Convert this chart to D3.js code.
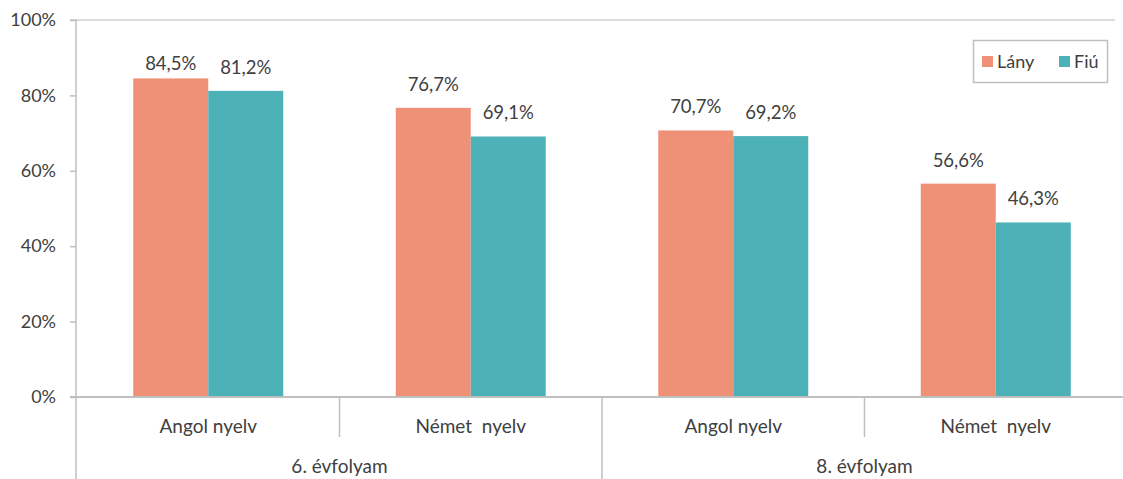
<!DOCTYPE html>
<html><head><meta charset="utf-8">
<script src="https://cdn.jsdelivr.net/npm/d3@7"></script>
<style>body{margin:0;background:#fff}svg{display:block}</style>
</head><body>
<svg id="c" width="1123" height="479"></svg>
<script>
const groups = ["6. évfolyam", "8. évfolyam"];
const subjects = ["Angol nyelv", "Német  nyelv"];
const series = ["Lány", "Fiú"];
const lany = [84.5, 76.7, 70.7, 56.6];
const fiu = [81.2, 69.1, 69.2, 46.3];
const yTicks = [0, 20, 40, 60, 80, 100];
const colors = ["#EF9177", "#4DB1B8"];

const categories = [];
groups.forEach(g => subjects.forEach(s => categories.push(g + "|" + s)));
const values = categories.map((c, i) => [lany[i], fiu[i]]);

const svg = d3.select("#c");
const font = "Lato, 'Open Sans', sans-serif";
const txt = "#404040";
const axisCol = "#BFBFBF";

const y = d3.scaleLinear().domain([0, 100]).range([397, 20]);
const x = d3.scaleBand().domain(categories).range([77, 1127]).paddingInner(0.4286).paddingOuter(0.2143);
const xs = d3.scaleBand().domain(series).range([0, x.bandwidth()]);
const step = x.step();
const x0 = 77;

// top line at 100%
svg.append("line").attr("x1", 70).attr("x2", 1115).attr("y1", y(100)).attr("y2", y(100))
  .attr("stroke", "#D0D0D0").attr("stroke-width", 1.5);

// bars
const g = svg.append("g");
categories.forEach((c, i) => {
  series.forEach((s, j) => {
    const v = values[i][j];
    g.append("rect").attr("x", x(c) + xs(s)).attr("width", xs.bandwidth())
      .attr("y", y(v)).attr("height", y(0) - y(v)).attr("fill", colors[j]);
    g.append("text").attr("x", x(c) + xs(s) + xs.bandwidth() / 2)
      .attr("y", Math.max(y(v) - 17, y(100) + 50))
      .attr("text-anchor", "middle").attr("font-family", font).attr("font-size", 18.5)
      .attr("fill", txt).text(v.toFixed(1).replace(".", ",") + "%");
  });
});

// y axis
const yAxis = d3.axisLeft(y).tickValues(yTicks).tickSize(6).tickFormat(d => d + "%");
const ya = svg.append("g").attr("transform", `translate(${x0 - 1},0)`).call(yAxis);
ya.select(".domain").remove();
ya.selectAll(".tick line").attr("stroke", axisCol).attr("stroke-width", 1.5);
ya.selectAll(".tick text").attr("font-family", font).attr("font-size", 18).attr("fill", txt).attr("x", -20);
svg.append("line").attr("x1", x0 - 1).attr("x2", x0 - 1).attr("y1", y(100)).attr("y2", 479)
  .attr("stroke", axisCol).attr("stroke-width", 1.5);

// baseline
svg.append("line").attr("x1", 70).attr("x2", 1123).attr("y1", y(0)).attr("y2", y(0))
  .attr("stroke", axisCol).attr("stroke-width", 2);

// category separators & labels
categories.forEach((c, i) => {
  const left = x(c) - x.paddingOuter() * step;
  const right = left + step;
  if (i > 0) {
    const isGroup = i % subjects.length === 0;
    svg.append("line").attr("x1", left).attr("x2", left).attr("y1", y(0))
      .attr("y2", isGroup ? 479 : 437).attr("stroke", axisCol).attr("stroke-width", 1.5);
  }
  svg.append("text").attr("x", (left + right) / 2).attr("y", 433).attr("text-anchor", "middle")
    .attr("font-family", font).attr("font-size", 19).attr("fill", txt)
    .attr("xml:space", "preserve").style("white-space", "pre").text(c.split("|")[1]);
});
groups.forEach((gname, gi) => {
  const first = categories[gi * subjects.length];
  const left = x(first) - x.paddingOuter() * step;
  const right = left + step * subjects.length;
  svg.append("text").attr("x", (left + right) / 2).attr("y", 473).attr("text-anchor", "middle")
    .attr("font-family", font).attr("font-size", 19).attr("fill", txt).text(gname);
});

// legend
const lg = svg.append("g");
lg.append("rect").attr("x", 973.5).attr("y", 40.5).attr("width", 134).attr("height", 42)
  .attr("fill", "#fff").attr("stroke", "#BFBFBF").attr("stroke-width", 1.5);
const legX = [982, 1059];
series.forEach((s, j) => {
  lg.append("rect").attr("x", legX[j]).attr("y", 56).attr("width", 11).attr("height", 11).attr("fill", colors[j]);
  lg.append("text").attr("x", legX[j] + 15).attr("y", 68).attr("font-family", font).attr("font-size", 18)
    .attr("fill", txt).text(s);
});
</script>
</body></html>
